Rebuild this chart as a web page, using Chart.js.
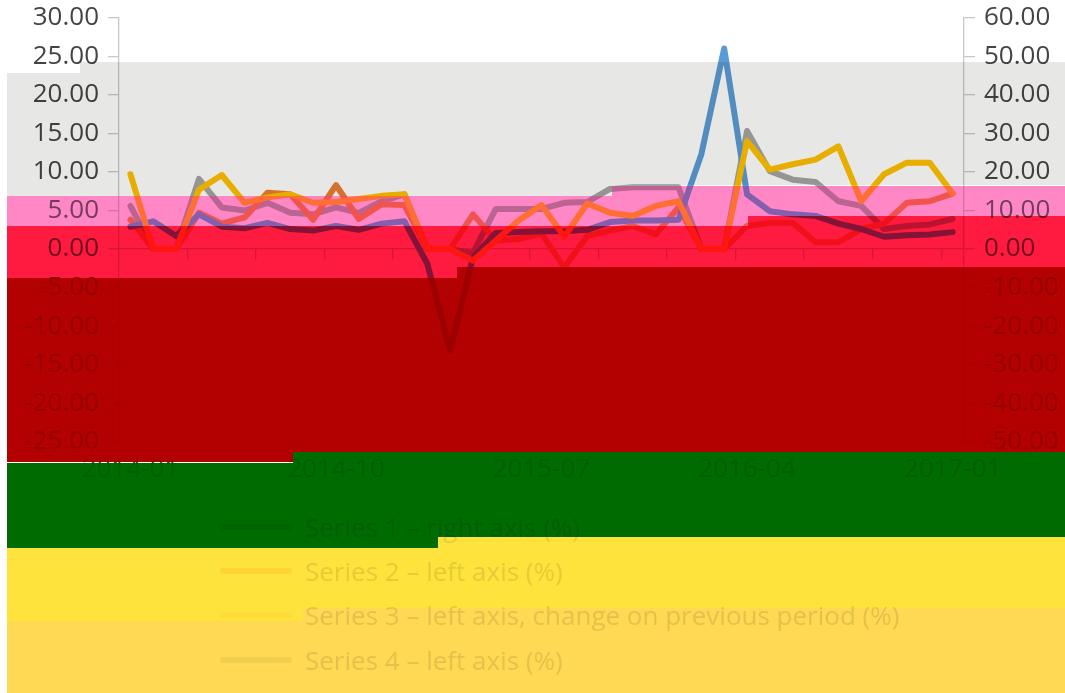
<!DOCTYPE html>
<html>
<head>
<meta charset="utf-8">
<script src="https://cdn.jsdelivr.net/npm/chart.js@4.4.1/dist/chart.umd.min.js"></script>
<style>
    html, body { margin: 0; padding: 0; background: #fff; }
    #wrap { position: relative; width: 1065px; height: 693px; overflow: hidden; background: #fff; font-family: 'Open Sans', sans-serif; }
    #chart { position: absolute; left: 0; top: -7px; }
    .legend-row { position: absolute; left: 220px; height: 36px; display: flex; align-items: center; font-size: 26px; color: #404040; white-space: nowrap; }
    .legend-line { display: inline-block; width: 72px; height: 6px; border-radius: 3px; margin-right: 13px; }
    .band { position: absolute; pointer-events: none; }
</style>
</head>
<body>
<div id="wrap">
    <canvas id="chart" width="1065" height="700"></canvas>
    <div id="legend"></div>
    <div id="bands"></div>
</div>
<script>
// Data
const categories = [
    '2014-01', '2014-02', '2014-03', '2014-04', '2014-05', '2014-06', '2014-07', '2014-08', '2014-09', '2014-10',
    '2014-11', '2014-12', '2015-01', '2015-02', '2015-03', '2015-04', '2015-05', '2015-06', '2015-07', '2015-08',
    '2015-09', '2015-10', '2015-11', '2015-12', '2016-01', '2016-02', '2016-03', '2016-04', '2016-05', '2016-06',
    '2016-07', '2016-08', '2016-09', '2016-10', '2016-11', '2016-12', '2017-01'
];

const seriesNames = [
    'Series 1 – right axis (%)',
    'Series 2 – left axis (%)',
    'Series 3 – left axis, change on previous period (%)',
    'Series 4 – left axis (%)'
];

// right axis
const blueValues = [5.8, 7.2, 3.4, 9.0, 5.8, 5.4, 6.8, 5.2, 4.8, 6.0, 5.0, 6.6, 7.2, -3.8, -26.2, -2.2, 4.2, 4.4, 4.6, 4.6,
    5.0, 7.0, 7.4, 7.4, 7.6, 24.6, 52.0, 14.2, 9.8, 9.0, 8.6, 6.6, 5.2, 3.2, 3.6, 3.8, 4.4];
// left axis
const orangeValues = [3.8, 0, 0, 4.7, 3.3, 4.1, 7.3, 7.1, 3.8, 8.3, 3.9, 5.8, 5.7, 0, 0, 4.5, 1.1, 1.3, 2.0, -2.4,
    1.7, 2.4, 3.0, 1.9, 5.4, 0, 0, 3.0, 3.4, 3.4, 0.9, 0.9, 2.6, 3.3, 6.0, 6.2, 7.2];
const goldValues = [9.7, 0, 0, 7.7, 9.6, 6.0, 6.7, 7.1, 6.0, 6.1, 6.5, 6.9, 7.1, 0, 0, -1.5, 1.1, 3.7, 5.7, 1.6,
    5.9, 4.7, 4.3, 5.6, 6.2, 0, 0, 14.0, 10.3, 11.0, 11.6, 13.3, 6.2, 9.7, 11.2, 11.2, 7.2];
const greyValues = [5.6, 0, 0, 9.1, 5.4, 5.0, 6.0, 4.7, 4.5, 5.4, 4.7, 6.2, 7.1, 0, 0, -0.5, 5.2, 5.2, 5.2, 6.0,
    6.1, 7.8, 8.0, 8.0, 8.0, 0, 0, 15.3, 10.1, 9.0, 8.7, 6.2, 5.6, 2.6, 3.0, 3.2, 3.9];

const leftTicks = { min: -25, max: 30, step: 5 };
const rightTicks = { min: -50, max: 60, step: 10 };

const seriesColors = ['#5b9bd5', '#ed7d31', '#ffc000', '#a5a5a5'];

// Colour bands over the picture: [left, top, right, bottom, colour, wash opacity]
// each band multiplies what is under it, then a wash of the same colour fades it
const bandRects = [
    [7, 72.5, 80, 195.7, '#e7e7e5', 0],
    [80, 62.3, 612, 195.7, '#e7e7e5', 0],
    [612, 62.3, 1065, 185.5, '#e7e7e5', 0],
    [7, 195.7, 612, 226, '#ff87c6', 0.25],
    [612, 185.5, 748, 226, '#ff87c6', 0.25],
    [748, 185.5, 1065, 216, '#ff87c6', 0.25],
    [7, 226, 457, 277.7, '#ff1a40', 0.25],
    [457, 226, 748, 267, '#ff1a40', 0.25],
    [748, 216, 1065, 267, '#ff1a40', 0.25],
    [7, 277.7, 293, 462.5, '#b30000', 0.8],
    [293, 277.7, 457, 452, '#b30000', 0.8],
    [457, 267, 1065, 452, '#b30000', 0.8],
    [7, 462.5, 293, 547.5, '#006b00', 0.85],
    [293, 452, 438, 547.5, '#006b00', 0.85],
    [438, 452, 1065, 536.5, '#006b00', 0.85],
    [7, 547.5, 303, 621, '#ffe33e', 0.86],
    [303, 547.5, 438, 608, '#ffe33e', 0.86],
    [438, 536.5, 1065, 608, '#ffe33e', 0.86],
    [7, 621, 303, 693, '#ffd954', 0.86],
    [303, 608, 1065, 693, '#ffd954', 0.86]
];

const axisFont = { family: "'Open Sans', sans-serif", size: 26 };
const axisText = '#444444';
const axisLine = '#c8c8c8';

function lineDataset(label, data, color, axis, order) {
    return {
        label: label,
        data: data,
        yAxisID: axis,
        borderColor: color,
        backgroundColor: color,
        borderWidth: 6,
        borderJoinStyle: 'round',
        borderCapStyle: 'round',
        pointRadius: 0,
        tension: 0,
        fill: false,
        order: order
    };
}

function valueAxis(position, range, width) {
    return {
        position: position,
        min: range.min,
        max: range.max,
        ticks: {
            stepSize: range.step,
            font: axisFont,
            color: axisText,
            padding: 9,
            callback: v => v.toFixed(2)
        },
        grid: { drawOnChartArea: false, tickLength: 11, color: axisLine, lineWidth: 1.3 },
        border: { color: axisLine, width: 1.3 },
        afterFit: scale => { scale.width = width; }
    };
}

const ctx = document.getElementById('chart').getContext('2d');

new Chart(ctx, {
    type: 'line',
    data: {
        labels: categories,
        datasets: [
            lineDataset(seriesNames[0], blueValues, seriesColors[0], 'y2', 1),
            lineDataset(seriesNames[1], orangeValues, seriesColors[1], 'y', 2),
            lineDataset(seriesNames[2], goldValues, seriesColors[2], 'y', 0),
            lineDataset(seriesNames[3], greyValues, seriesColors[3], 'y', 3)
        ]
    },
    options: {
        responsive: false,
        animation: false,
        layout: { autoPadding: false, padding: { top: 16, left: 0, right: 0, bottom: 0 } },
        plugins: { legend: { display: false }, tooltip: { enabled: false } },
        scales: {
            // axis line crossing at zero, tick marks every 3 categories
            x: {
                type: 'category',
                position: { y: 0 },
                offset: true,
                ticks: { display: false, autoSkip: false },
                grid: {
                    offset: true,
                    drawOnChartArea: false,
                    tickLength: 10,
                    lineWidth: 1.3,
                    color: c => (c.index !== undefined && c.index % 3 === 0) ? axisLine : 'rgba(0,0,0,0)'
                },
                border: { color: axisLine, width: 1.3 },
                afterFit: scale => { scale.height = 0; }
            },
            // category labels at the bottom of the plot
            x2: {
                type: 'category',
                position: 'bottom',
                offset: true,
                grid: { display: false },
                border: { display: false },
                ticks: {
                    autoSkip: false,
                    maxRotation: 0,
                    font: axisFont,
                    color: axisText,
                    padding: 4,
                    callback: function (value, index) {
                        return index % 9 === 0 ? this.getLabelForValue(value) : '';
                    }
                },
                afterFit: scale => { scale.height = 251; }
            },
            y: valueAxis('left', leftTicks, 119),
            y2: valueAxis('right', rightTicks, 101)
        }
    }
});

// Legend, one series per row
const legendRows = [527, 571, 615, 660];
const legend = document.getElementById('legend');
seriesNames.forEach((name, i) => {
    const row = document.createElement('div');
    row.className = 'legend-row';
    row.style.top = (legendRows[i] - 18) + 'px';
    row.innerHTML = `<span class="legend-line" style="background:${seriesColors[i]}"></span><span>${name}</span>`;
    legend.appendChild(row);
});

// Colour bands
const bands = document.getElementById('bands');
bandRects.forEach(b => {
    const [x1, y1, x2, y2, color, wash] = b;
    const layers = [['multiply', 1]];
    if (wash > 0) layers.push(['normal', wash]);
    layers.forEach(([mode, alpha]) => {
        const el = document.createElement('div');
        el.className = 'band';
        el.style.left = x1 + 'px';
        el.style.top = y1 + 'px';
        el.style.width = (x2 - x1) + 'px';
        el.style.height = (y2 - y1) + 'px';
        el.style.background = color;
        el.style.mixBlendMode = mode;
        el.style.opacity = alpha;
        bands.appendChild(el);
    });
});
</script>
</body>
</html>
